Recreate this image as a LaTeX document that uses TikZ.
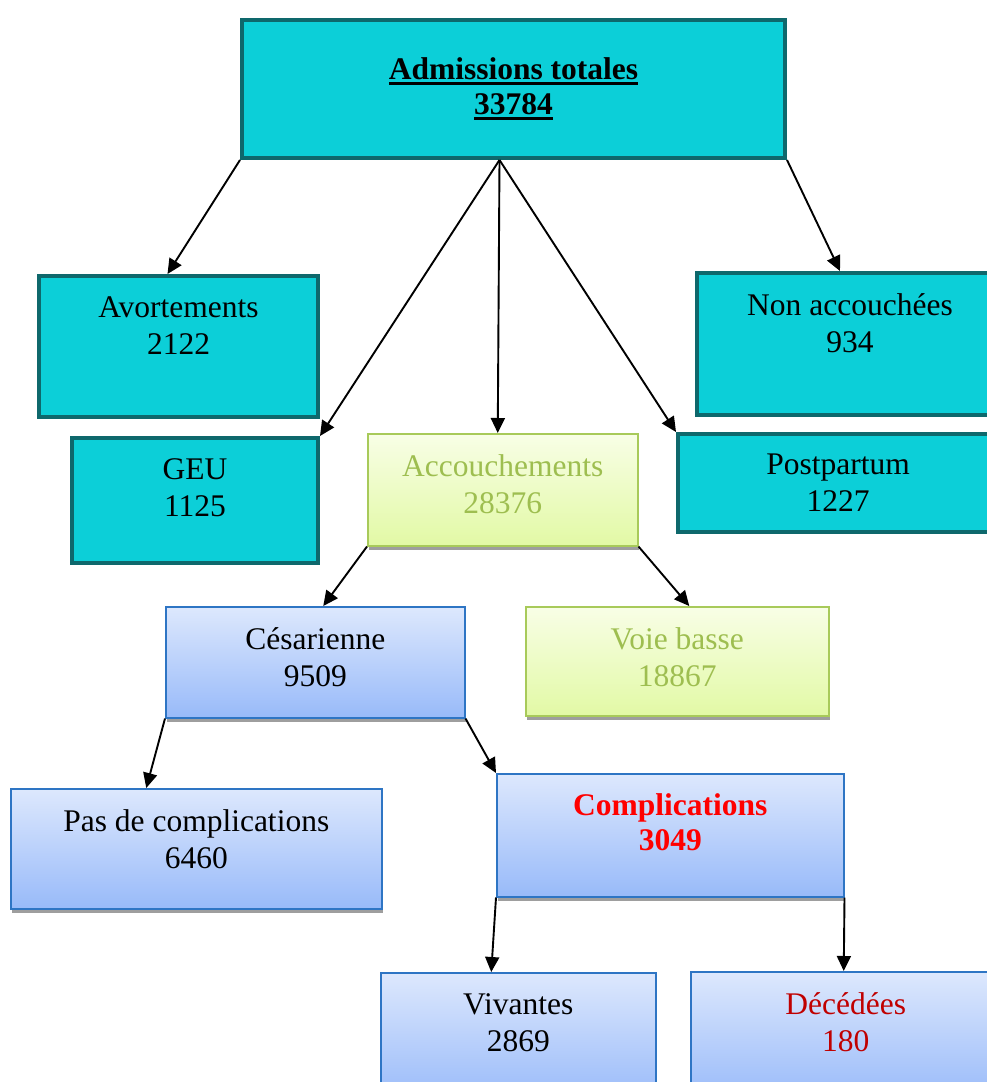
\documentclass[tikz,border=0pt]{standalone}
\usepackage{fontspec}
\setmainfont{Liberation Serif}
\usetikzlibrary{arrows.meta,calc,shadows}
\definecolor{tealfill}{RGB}{12,207,216}
\definecolor{tealline}{RGB}{14,104,108}
\definecolor{bluetop}{RGB}{221,232,253}
\definecolor{bluebot}{RGB}{152,186,249}
\definecolor{blueline}{RGB}{46,117,196}
\definecolor{greentop}{RGB}{248,254,230}
\definecolor{greenbot}{RGB}{226,249,165}
\definecolor{greenline}{RGB}{168,202,90}
\definecolor{greentext}{RGB}{158,190,80}
\definecolor{darkred}{RGB}{192,0,0}
\newcommand\ulbar[1]{\setbox0\hbox{#1}\rlap{\rule[-5pt]{\wd0}{2.6pt}}\box0}
\begin{document}
\begin{tikzpicture}[x=1pt,y=-1pt,
  box/.style={rectangle, inner sep=0pt, anchor=north west},
  tealbox/.style={box, fill=tealfill, draw=tealline, line width=4pt},
  bluebox/.style={box, top color=bluetop, bottom color=bluebot, draw=blueline, line width=1.5pt},
  greenbox/.style={box, top color=greentop, bottom color=greenbot, draw=greenline, line width=1.5pt},
  shad/.style={drop shadow={shadow xshift=1pt, shadow yshift=-4pt, fill=black!38, opacity=1}},
  txt/.style={anchor=north, align=center, inner sep=0pt, font=\fontsize{31.5}{37}\selectfont},
  arr/.style={line width=1.9pt, -{Triangle[length=15pt,width=14pt]}}]
\useasboundingbox (0,0) rectangle (987,1082);
\clip (0,0) rectangle (987,1082);
% boxes
\node[tealbox, minimum width=543pt, minimum height=138pt, align=center,
  font=\fontsize{31.5}{35}\selectfont\bfseries] (top) at (240,18)
  {\ulbar{Admissions totales}\\\ulbar{33784}};
\node[tealbox, minimum width=279pt, minimum height=141pt] (avo) at (37,274) {};
\node[tealbox, minimum width=246pt, minimum height=125pt] (geu) at (70,436) {};
\node[tealbox, minimum width=306pt, minimum height=142pt] (non) at (695,271) {};
\node[tealbox, minimum width=320pt, minimum height=98pt] (post) at (676,432) {};
\node[greenbox, shad, minimum width=270pt, minimum height=112pt] (acc) at (367,433) {};
\node[bluebox, shad, minimum width=299pt, minimum height=111pt] (ces) at (165,606) {};
\node[greenbox, shad, minimum width=303pt, minimum height=109pt] (voie) at (525,606) {};
\node[bluebox, shad, minimum width=371pt, minimum height=120pt] (pas) at (10,788) {};
\node[bluebox, shad, minimum width=347pt, minimum height=123pt] (comp) at (496,773) {};
\node[bluebox, minimum width=275pt, minimum height=130pt] (viv) at (380,972) {};
\node[bluebox, minimum width=310pt, minimum height=130pt] (dec) at (690,971) {};
% texts
\node[txt] (avoT) at ($(avo.north)+(0,22)$) {Avortements\\2122};
\node[txt] (geuT) at ($(geu.north)+(0,22)$) {GEU\\1125};
\node[txt] (nonT) at ($(non.north)+(0,22)$) {Non accouchées\\934};
\node[txt] (postT) at ($(post.north)+(0,22)$) {Postpartum\\1227};
\node[txt, text=greentext] (accT) at ($(acc.north)+(0,21)$) {Accouchements\\28376};
\node[txt] (cesT) at ($(ces.north)+(0,21)$) {Césarienne\\9509};
\node[txt, text=greentext] (voieT) at ($(voie.north)+(0,21)$) {Voie basse\\18867};
\node[txt] (pasT) at ($(pas.north)+(0,21)$) {Pas de complications\\6460};
\node[txt, text=red, font=\fontsize{31.5}{35}\selectfont\bfseries] (compT) at ($(comp.north)+(0,20)$) {Complications\\3049};
\node[txt] (vivT) at ($(viv.north)+(0,21)$) {Vivantes\\2869};
\node[txt, text=darkred] (decT) at ($(dec.north)+(0,21)$) {Décédées\\180};
% arrows
\draw[arr] (top.south west) -- ($(avo.north)+(-11,0)$);
\draw[arr] ($(top.south)+(-14,0)$) -- (geu.north east);
\draw[arr] ($(top.south)+(-14,0)$) -- ($(acc.north)+(-5,0)$);
\draw[arr] ($(top.south)+(-14,0)$) -- (post.north west);
\draw[arr] (top.south east) -- ($(non.north west)+(145,0)$);
\draw[arr] (acc.south west) -- ($(ces.north)+(8,0)$);
\draw[arr] (acc.south east) -- ($(voie.north)+(12,0)$);
\draw[arr] (ces.south west) -- ($(pas.north)+(-50,0)$);
\draw[arr] (ces.south east) -- (comp.north west);
\draw[arr] (comp.south west) -- ($(viv.north)+(-27,0)$);
\draw[arr] (comp.south east) -- ($(dec.north)+(-2,0)$);
\end{tikzpicture}
\end{document}
